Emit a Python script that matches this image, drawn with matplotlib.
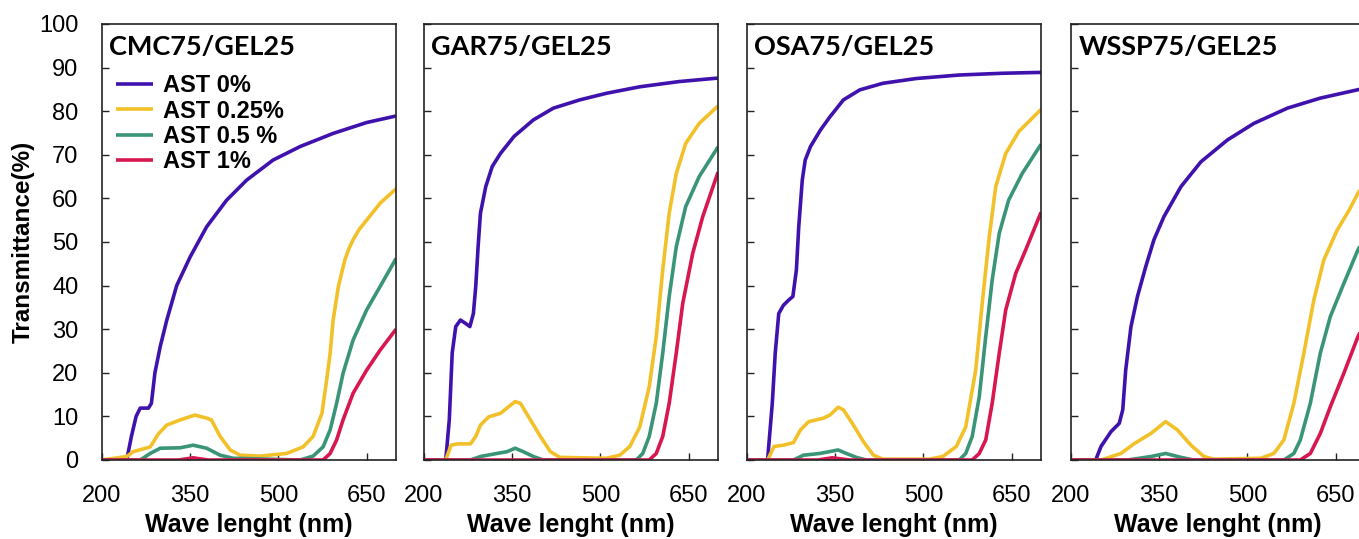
import matplotlib
matplotlib.use('Agg')
import matplotlib.pyplot as plt

# transmittance spectra: (wavelength nm, T %)
titles = ['CMC75/GEL25', 'GAR75/GEL25', 'OSA75/GEL25', 'WSSP75/GEL25']
labels = ['AST 0%', 'AST 0.25%', 'AST 0.5 %', 'AST 1%']
colors = ['#3f12ad', '#f2c12a', '#3a9478', '#d8174f']

# CMC75/GEL25
cmc_0_x = [200, 242, 250, 258, 265, 279, 284, 290, 299, 310, 327, 350, 378, 412, 446, 491, 537, 593, 650, 700]
cmc_0_y = [0, 0, 5.4, 10, 11.9, 11.9, 13, 20, 26, 32, 40, 46.6, 53.5, 59.6, 64.2, 68.8, 71.9, 74.9, 77.4, 78.9]
cmc_1_x = [200, 242, 253, 282, 296, 310, 333, 358, 378, 386, 401, 418, 435, 469, 514, 542, 559, 574, 582, 588, 593, 602, 613, 620, 627, 638, 650, 673, 700]
cmc_1_y = [0, 0.8, 1.9, 3, 6, 8, 9.2, 10.3, 9.6, 9.2, 5.4, 2.3, 1.1, 0.9, 1.5, 3, 5.4, 10.7, 18.3, 24.5, 32, 39.8, 45.9, 48.5, 50.5, 53, 55, 58.9, 62.2]
cmc_2_x = [200, 265, 282, 299, 333, 355, 378, 401, 423, 537, 559, 576, 588, 599, 610, 627, 650, 673, 700]
cmc_2_y = [0, 0, 1.5, 2.7, 2.8, 3.4, 2.7, 1.1, 0.4, 0, 0.9, 3, 6.9, 13, 19.9, 27.5, 34.4, 39.8, 46.2]
cmc_3_x = [200, 330, 355, 380, 576, 588, 599, 610, 627, 650, 673, 700]
cmc_3_y = [0, 0, 0.5, 0, 0, 1.5, 4.6, 9.2, 15.3, 20.6, 25.2, 30]

# GAR75/GEL25
gar_0_x = [200, 237, 243, 248, 254, 262, 271, 278, 284, 288, 292, 296, 305, 316, 330, 353, 386, 420, 465, 510, 567, 634, 700]
gar_0_y = [0, 0, 9.2, 24.6, 30.6, 32.1, 31.3, 30.6, 33.6, 39.8, 48.9, 56.6, 62.7, 67.3, 70.3, 74.2, 78, 80.7, 82.6, 84.1, 85.6, 86.8, 87.6]
gar_1_x = [200, 237, 246, 257, 279, 288, 296, 310, 330, 341, 355, 364, 381, 398, 415, 431, 510, 533, 550, 567, 583, 595, 606, 617, 629, 645, 668, 700]
gar_1_y = [0, 0, 3.4, 3.7, 3.7, 5.4, 8, 9.9, 10.7, 11.9, 13.4, 13, 9.2, 5.4, 1.9, 0.6, 0.4, 1.1, 3.1, 7.6, 16.8, 28.3, 43.6, 56.6, 65.7, 72.6, 77.2, 81.2]
gar_2_x = [200, 279, 296, 324, 341, 355, 369, 386, 403, 561, 572, 583, 595, 606, 617, 629, 645, 668, 700]
gar_2_y = [0, 0, 0.8, 1.5, 1.9, 2.7, 1.9, 0.8, 0, 0, 1.5, 5.4, 13, 24.5, 37.5, 48.9, 58.1, 65, 71.8]
gar_3_x = [200, 583, 595, 606, 617, 629, 640, 657, 674, 700]
gar_3_y = [0, 0, 1.5, 5.4, 13, 24.5, 35.9, 47.4, 55.8, 66]

# OSA75/GEL25
osa_0_x = [200, 235, 243, 248, 254, 262, 271, 278, 284, 288, 294, 299, 308, 325, 341, 364, 392, 431, 488, 561, 634, 700]
osa_0_y = [0, 0, 13, 24.5, 33.6, 35.5, 36.7, 37.5, 43.6, 53.5, 64.2, 68.8, 71.9, 75.7, 78.7, 82.6, 84.9, 86.4, 87.5, 88.3, 88.7, 88.9]
osa_1_x = [200, 235, 246, 262, 279, 291, 305, 330, 341, 355, 364, 381, 398, 415, 431, 510, 533, 556, 572, 589, 600, 612, 623, 640, 662, 700]
osa_1_y = [0, 0, 3.1, 3.4, 4, 6.9, 8.8, 9.6, 10.3, 12.1, 11.5, 8, 4.2, 1.1, 0.2, 0.2, 0.8, 3.1, 7.6, 20.6, 35.9, 51.2, 62.7, 70.3, 75.3, 80.4]
osa_2_x = [200, 279, 296, 324, 355, 369, 386, 403, 561, 572, 583, 595, 606, 617, 629, 645, 668, 700]
osa_2_y = [0, 0, 1.1, 1.5, 2.3, 1.5, 0.6, 0, 0, 1.5, 5.4, 14.5, 28.3, 41.3, 52, 59.6, 65.7, 72.4]
osa_3_x = [200, 320, 345, 375, 583, 595, 606, 617, 629, 640, 657, 674, 700]
osa_3_y = [0, 0, 0.5, 0, 0, 1.5, 4.6, 13, 24.5, 34.4, 42.8, 48.2, 56.8]

# WSSP75/GEL25
wssp_0_x = [200, 242, 251, 268, 282, 288, 293, 302, 313, 327, 341, 358, 387, 421, 466, 511, 568, 624, 687, 700]
wssp_0_y = [0, 0, 3.1, 6.5, 8.4, 11.5, 20.6, 30.6, 37.5, 44.3, 50.5, 55.8, 62.7, 68.4, 73.4, 77.2, 80.7, 83, 84.9, 85.3]
wssp_1_x = [200, 251, 285, 308, 336, 361, 381, 404, 426, 443, 523, 545, 562, 579, 596, 613, 630, 653, 673, 688, 700]
wssp_1_y = [0, 0, 1.5, 3.8, 6.1, 8.8, 6.9, 3.4, 0.8, 0.2, 0.4, 1.5, 4.6, 13, 24.5, 36.7, 45.9, 52.8, 57.3, 61.2, 63.5]
wssp_2_x = [200, 296, 336, 361, 387, 409, 562, 579, 590, 607, 624, 641, 664, 688, 700]
wssp_2_y = [0, 0, 0.8, 1.5, 0.6, 0, 0, 1.5, 4.6, 13, 24.5, 32.9, 40.5, 48.2, 51]
wssp_3_x = [200, 590, 607, 624, 641, 664, 688, 700]
wssp_3_y = [0, 0, 1.5, 6.1, 12.2, 19.9, 28.3, 31.5]

panels = [
    [(cmc_0_x, cmc_0_y), (cmc_1_x, cmc_1_y), (cmc_2_x, cmc_2_y), (cmc_3_x, cmc_3_y)],
    [(gar_0_x, gar_0_y), (gar_1_x, gar_1_y), (gar_2_x, gar_2_y), (gar_3_x, gar_3_y)],
    [(osa_0_x, osa_0_y), (osa_1_x, osa_1_y), (osa_2_x, osa_2_y), (osa_3_x, osa_3_y)],
    [(wssp_0_x, wssp_0_y), (wssp_1_x, wssp_1_y), (wssp_2_x, wssp_2_y), (wssp_3_x, wssp_3_y)],
]

plt.rcParams['font.family'] = ['Liberation Sans', 'DejaVu Sans']
plt.rcParams['xtick.direction'] = 'in'
plt.rcParams['ytick.direction'] = 'in'
plt.rcParams['xtick.major.pad'] = 18
plt.rcParams['ytick.major.pad'] = 17

W, H = 1359, 539
fig = plt.figure(figsize=(W / 100, H / 100), dpi=100)

lefts = [102, 424, 747, 1071]
for i, (left, title, series) in enumerate(zip(lefts, titles, panels)):
    ax = fig.add_axes([left / W, 79 / H, 294 / W, 436 / H])
    for (x, y), c, lab in zip(series, colors, labels):
        ax.plot(x, y, color=c, lw=2.6, label=lab, solid_capstyle='butt',
                solid_joinstyle='round')
    ax.set_xlim(200, 700)
    ax.set_ylim(0, 100)
    ax.set_xticks([200, 350, 500, 650])
    ax.set_yticks(range(0, 101, 10))
    ax.tick_params(length=5, width=1, labelsize=17, color='#222222')
    if i > 0:
        ax.tick_params(axis='y', labelleft=False)
    else:
        ax.set_ylabel('Transmittance(%)', fontsize=17.5, fontweight='bold', labelpad=3)
    ax.set_xlabel('Wave lenght (nm)', fontsize=18, fontweight='bold', labelpad=4)
    for s in ax.spines.values():
        s.set_linewidth(1.2)
        s.set_color('#222222')
    ax.text(0.025, 0.975, title, transform=ax.transAxes, ha='left', va='top',
            fontsize=19.5, fontweight='bold', family=['Lato', 'DejaVu Sans'])
    if i == 0:
        ax.legend(loc='upper left', bbox_to_anchor=(0.048, 0.885), frameon=False,
                  prop={'weight': 'bold', 'size': 17}, handlelength=1.55,
                  handletextpad=0.45, labelspacing=0.1, borderpad=0, borderaxespad=0)

fig.savefig('out.png', dpi=100)
